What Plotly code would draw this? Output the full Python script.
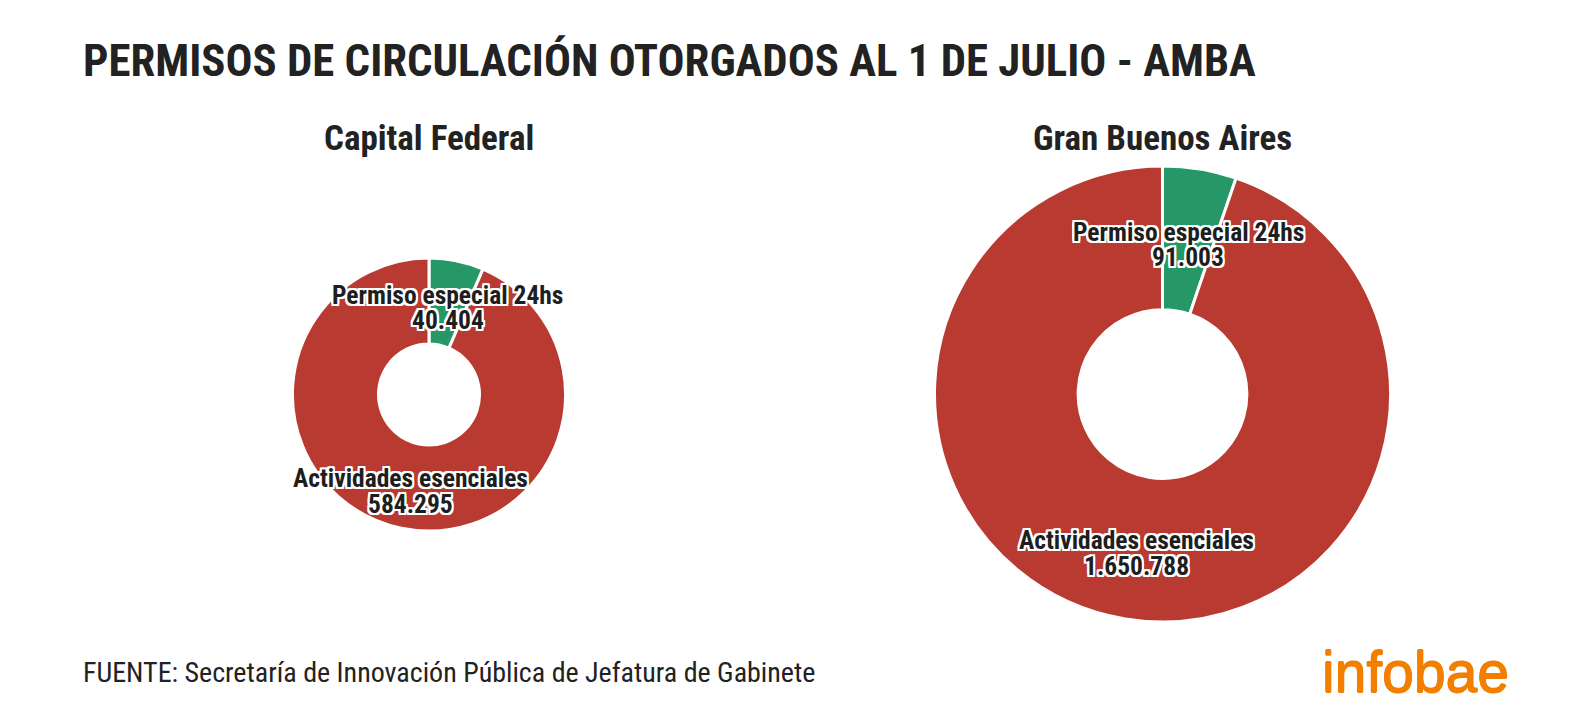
import math
import plotly.graph_objects as go

# ---- data ----
title_text = "PERMISOS DE CIRCULACIÓN OTORGADOS AL 1 DE JULIO - AMBA"
regions = ["Capital Federal", "Gran Buenos Aires"]
categories = ["Permiso especial 24hs", "Actividades esenciales"]
capital_values = [40404, 584295]
gba_values = [91003, 1650788]
source_text = "FUENTE: Secretaría de Innovación Pública de Jefatura de Gabinete"
brand_text = "infobae"

# ---- style ----
PAGE_W, PAGE_H = 1578, 728
BODY_MARGIN = 8                      # default HTML body margin
W, H = PAGE_W - 2 * BODY_MARGIN, PAGE_H - 2 * BODY_MARGIN
COLORS = ["#269868", "#B93A30"]
BRAND = "#F27F00"
HOLE = 0.37
COND = "Roboto Condensed, Liberation Sans Narrow, DejaVu Sans Condensed, Roboto, sans-serif"
HALO = ("1px 1px 0 #fff, -1px -1px 0 #fff, 1px -1px 0 #fff, -1px 1px 0 #fff, "
        "2px 0 0 #fff, -2px 0 0 #fff, 0 2px 0 #fff, 0 -2px 0 #fff, "
        "2px 2px 0 #fff, -2px -2px 0 #fff, 2px -2px 0 #fff, -2px 2px 0 #fff")
BRAND_BOLDEN = (f"0.6px 0 0 {BRAND}, -0.6px 0 0 {BRAND}, "
                f"0 0.6px 0 {BRAND}, 0 -0.6px 0 {BRAND}")

def fmt(v):
    return f"{v:,}".replace(",", ".")

def px2paper(x, y):
    """page pixel position -> paper coords of the figure"""
    return (x - BODY_MARGIN) / W, 1 - (y - BODY_MARGIN) / H

# pie placement (pixels): big pie radius, small pie scaled by area
R_big = 228
tot_cap, tot_gba = sum(capital_values), sum(gba_values)
R_small = R_big * math.sqrt(tot_cap / tot_gba)
centers = [(429, 394.5), (1162.5, 394)]
radii = [R_small, R_big]
series = [capital_values, gba_values]

fig = go.Figure()
annotations = []
for (cx, cy), R, vals, name in zip(centers, radii, series, regions):
    x0, y1 = px2paper(cx - R, cy + R)
    x1, y0 = px2paper(cx + R, cy - R)
    fig.add_trace(go.Pie(
        labels=categories, values=vals, hole=HOLE, sort=False,
        direction="clockwise", rotation=0,
        marker=dict(colors=COLORS, line=dict(color="white", width=3)),
        textinfo="none", hoverinfo="label+value", showlegend=False,
        domain=dict(x=[x0, x1], y=[y1, y0]), name=name,
    ))
    total = sum(vals)
    cum = 0
    r_mid = R * (1 + HOLE) / 2
    for cat, v in zip(categories, vals):
        mid = (cum + v / 2) / total * 2 * math.pi
        cum += v
        px = cx + r_mid * math.sin(mid)
        py = cy - r_mid * math.cos(mid)
        ax, ay = px2paper(px, py)
        for line_txt, shift in ((cat, 8), (fmt(v), -17.5)):
            annotations.append(dict(
                x=ax, y=ay, xref="paper", yref="paper",
                text=line_txt, showarrow=False, yshift=shift,
                xanchor="center", yanchor="middle", align="center",
                font=dict(family=COND, size=25.5, color="#1e1e1e", weight="bold", shadow=HALO),
            ))
    sx, sy = px2paper(cx, 138)
    annotations.append(dict(
        x=sx, y=sy, xref="paper", yref="paper", text=name,
        showarrow=False, xanchor="center", yanchor="middle",
        font=dict(family=COND, size=35, color="#222", weight="bold"),
    ))

tx, ty = px2paper(81, 61)
annotations.append(dict(
    x=tx, y=ty, xref="paper", yref="paper", text=title_text,
    showarrow=False, xanchor="left", yanchor="middle",
    font=dict(family=COND, size=44.8, color="#222", weight="bold"),
))
fx, fy = px2paper(81, 672)
annotations.append(dict(
    x=fx, y=fy, xref="paper", yref="paper", text=source_text,
    showarrow=False, xanchor="left", yanchor="middle",
    font=dict(family=COND, size=28, color="#222"),
))
bx, by = px2paper(1511, 672)
annotations.append(dict(
    x=bx, y=by, xref="paper", yref="paper", text=brand_text,
    showarrow=False, xanchor="right", yanchor="middle",
    font=dict(family="Liberation Sans, Arial, sans-serif", size=57, color=BRAND,
              shadow=BRAND_BOLDEN),
))

fig.update_layout(
    width=W, height=H, margin=dict(l=0, r=0, t=0, b=0),
    paper_bgcolor="white", plot_bgcolor="white",
    annotations=annotations,
)
fig.write_html("out.html")
